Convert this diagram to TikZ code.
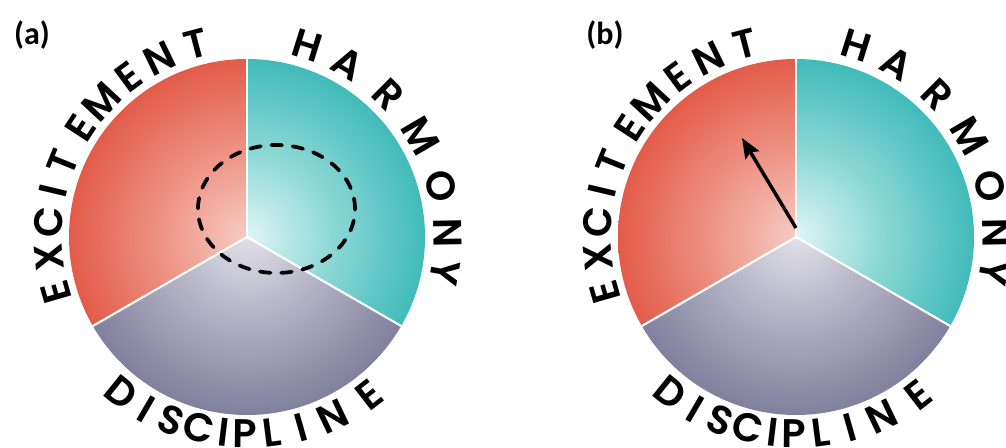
\documentclass[tikz,border=0pt]{standalone}
\usepackage{fontspec}
\usetikzlibrary{arrows.meta}

\newfontfamily\ringfont{Poppins SemiBold}
\newfontfamily\tagfont{Carlito}

\definecolor{redout}{HTML}{E04E3C}
\definecolor{redmid}{HTML}{EE9485}
\definecolor{redin}{HTML}{F6CBC3}
\definecolor{tealout}{HTML}{2FB4B3}
\definecolor{tealmid}{HTML}{8CD8D6}
\definecolor{tealin}{HTML}{DFF5F4}
\definecolor{purpout}{HTML}{66678A}
\definecolor{purpmid}{HTML}{A9A8BD}
\definecolor{purpin}{HTML}{E1E0E8}

\pgfdeclareradialshading{redfan}{\pgfpoint{0bp}{0bp}}{color(0bp)=(redin); color(12bp)=(redmid); color(28bp)=(redout); color(50bp)=(redout)}
\pgfdeclareradialshading{tealfan}{\pgfpoint{0bp}{0bp}}{color(0bp)=(tealin); color(12bp)=(tealmid); color(28bp)=(tealout); color(50bp)=(tealout)}
\pgfdeclareradialshading{purpfan}{\pgfpoint{0bp}{0bp}}{color(0bp)=(purpin); color(14bp)=(purpmid); color(32bp)=(purpout); color(50bp)=(purpout)}

\tikzset{
  letter/.style={font=\ringfont\fontsize{30}{30}\selectfont, inner sep=0pt, anchor=center},
  tag/.style={font=\tagfont\bfseries\fontsize{24}{24}\selectfont, inner sep=0pt, anchor=center},
  gap/.style={draw=white, line width=1.6pt},
  ring/.style={line width=2.8pt, dash pattern=on 8pt off 8pt, line cap=round},
  pointer/.style={line width=2.6pt, -{Stealth[length=15pt, width=12pt, inset=2.5pt]}}
}

\begin{document}
\begin{tikzpicture}[x=0.75pt, y=0.75pt]
    \useasboundingbox[fill=white] (0,0) rectangle (1006,448);

    \node[tag] (taga) at (32,413) {(a)};
    \node[tag] (tagb) at (605,413) {(b)};

    % panel (a)
    \begin{scope}[shift={(247,211)}]
        \begin{scope}
            \clip (0,0) -- (90:178) arc[start angle=90, end angle=210, radius=178] -- cycle;
            \shade[shading=redfan] (0,0) circle[radius=178];
        \end{scope}
        \begin{scope}
            \clip (0,0) -- (210:178) arc[start angle=210, end angle=330, radius=178] -- cycle;
            \shade[shading=purpfan] (0,0) circle[radius=178];
        \end{scope}
        \begin{scope}
            \clip (0,0) -- (330:178) arc[start angle=-30, end angle=90, radius=178] -- cycle;
            \shade[shading=tealfan] (0,0) circle[radius=178];
        \end{scope}
        \draw[gap] (0,0) -- (90:178);
        \draw[gap] (0,0) -- (210:178);
        \draw[gap] (0,0) -- (330:178);

        \draw[ring] (29.5,28) ellipse[x radius=78.5, y radius=64];

        \node[letter, rotate=106.1] (ea1) at (196.1:199) {E};
        \node[letter, rotate=95.9] (ea2) at (185.9:199) {X};
        \node[letter, rotate=85.8] (ea3) at (175.8:199) {C};
        \node[letter, rotate=76.6] (ea4) at (166.6:199) {I};
        \node[letter, rotate=67.9] (ea5) at (157.9:199) {T};
        \node[letter, rotate=56.8] (ea6) at (146.8:199) {E};
        \node[letter, rotate=47.1] (ea7) at (137.1:199) {M};
        \node[letter, rotate=36.5] (ea8) at (126.5:199) {E};
        \node[letter, rotate=26.0] (ea9) at (116.0:199) {N};
        \node[letter, rotate=14.7] (ea10) at (104.7:199) {T};

        \node[letter, rotate=-17.4] (ha1) at (72.6:201) {H};
        \node[letter, rotate=-30.2] (ha2) at (59.8:201) {A};
        \node[letter, rotate=-44.8] (ha3) at (45.2:201) {R};
        \node[letter, rotate=-59.7] (ha4) at (30.3:201) {M};
        \node[letter, rotate=-75.3] (ha5) at (14.7:201) {O};
        \node[letter, rotate=-88.9] (ha6) at (1.1:201) {N};
        \node[letter, rotate=-100.3] (ha7) at (-10.3:201) {Y};

        \node[letter, rotate=321.2] (da1) at (231.2:200) {D};
        \node[letter, rotate=329.7] (da2) at (239.7:199) {I};
        \node[letter, rotate=337.4] (da3) at (247.4:198) {S};
        \node[letter, rotate=345.8] (da4) at (255.8:197) {C};
        \node[letter, rotate=353.2] (da5) at (263.2:197) {I};
        \node[letter, rotate=359.4] (da6) at (269.4:197) {P};
        \node[letter, rotate=7.3] (da7) at (277.3:197) {L};
        \node[letter, rotate=15.9] (da8) at (285.9:198) {I};
        \node[letter, rotate=25.6] (da9) at (295.6:199) {N};
        \node[letter, rotate=37.8] (da10) at (307.8:200) {E};
    \end{scope}

    % panel (b)
    \begin{scope}[shift={(796,211)}]
        \begin{scope}
            \clip (0,0) -- (90:178) arc[start angle=90, end angle=210, radius=178] -- cycle;
            \shade[shading=redfan] (0,0) circle[radius=178];
        \end{scope}
        \begin{scope}
            \clip (0,0) -- (210:178) arc[start angle=210, end angle=330, radius=178] -- cycle;
            \shade[shading=purpfan] (0,0) circle[radius=178];
        \end{scope}
        \begin{scope}
            \clip (0,0) -- (330:178) arc[start angle=-30, end angle=90, radius=178] -- cycle;
            \shade[shading=tealfan] (0,0) circle[radius=178];
        \end{scope}
        \draw[gap] (0,0) -- (90:178);
        \draw[gap] (0,0) -- (210:178);
        \draw[gap] (0,0) -- (330:178);

        \coordinate (tail) at (0,9);
        \coordinate (tip) at (-54,99);
        \draw[pointer] (tail) -- (tip);

        \node[letter, rotate=106.1] (eb1) at (196.1:199) {E};
        \node[letter, rotate=95.9] (eb2) at (185.9:199) {X};
        \node[letter, rotate=85.8] (eb3) at (175.8:199) {C};
        \node[letter, rotate=76.6] (eb4) at (166.6:199) {I};
        \node[letter, rotate=67.9] (eb5) at (157.9:199) {T};
        \node[letter, rotate=56.8] (eb6) at (146.8:199) {E};
        \node[letter, rotate=47.1] (eb7) at (137.1:199) {M};
        \node[letter, rotate=36.5] (eb8) at (126.5:199) {E};
        \node[letter, rotate=26.0] (eb9) at (116.0:199) {N};
        \node[letter, rotate=14.7] (eb10) at (104.7:199) {T};

        \node[letter, rotate=-17.4] (hb1) at (72.6:201) {H};
        \node[letter, rotate=-30.2] (hb2) at (59.8:201) {A};
        \node[letter, rotate=-44.8] (hb3) at (45.2:201) {R};
        \node[letter, rotate=-59.7] (hb4) at (30.3:201) {M};
        \node[letter, rotate=-75.3] (hb5) at (14.7:201) {O};
        \node[letter, rotate=-88.9] (hb6) at (1.1:201) {N};
        \node[letter, rotate=-100.3] (hb7) at (-10.3:201) {Y};

        \node[letter, rotate=321.2] (db1) at (231.2:200) {D};
        \node[letter, rotate=329.7] (db2) at (239.7:199) {I};
        \node[letter, rotate=337.4] (db3) at (247.4:198) {S};
        \node[letter, rotate=345.8] (db4) at (255.8:197) {C};
        \node[letter, rotate=353.2] (db5) at (263.2:197) {I};
        \node[letter, rotate=359.4] (db6) at (269.4:197) {P};
        \node[letter, rotate=7.3] (db7) at (277.3:197) {L};
        \node[letter, rotate=15.9] (db8) at (285.9:198) {I};
        \node[letter, rotate=25.6] (db9) at (295.6:199) {N};
        \node[letter, rotate=37.8] (db10) at (307.8:200) {E};
    \end{scope}
\end{tikzpicture}
\end{document}
